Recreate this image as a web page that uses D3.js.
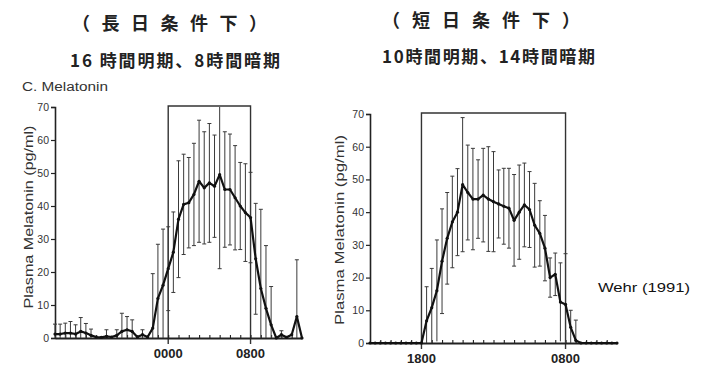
<!DOCTYPE html>
<html>
<head>
<meta charset="utf-8">
<script src="https://cdn.jsdelivr.net/npm/d3@7"></script>
<style>
  html, body { margin: 0; padding: 0; background: #fff; }
  svg { display: block; }
</style>
</head>
<body>
<svg id="chart" width="701" height="368"></svg>
<script>
// Sampling times, hours after 13:00 (30-min sampling over 24 h)
const sampleHours = [0, 0.5, 1, 1.5, 2, 2.5, 3, 3.5, 4, 4.5, 5, 5.5, 6, 6.5, 7, 7.5, 8, 8.5, 9, 9.5,
  10, 10.5, 11, 11.5, 12, 12.5, 13, 13.5, 14, 14.5, 15, 15.5, 16, 16.5, 17, 17.5, 18, 18.5, 19, 19.5,
  20, 20.5, 21, 21.5, 22, 22.5, 23, 23.5, 24];

// Long photoperiod (16L:8D): mean plasma melatonin (pg/ml) and SD
const longMean = [1.2, 1.2, 1.5, 1.5, 1.2, 2.0, 1.5, 0.8, 0.3, 0.2, 0.5, 0.3, 0.8, 2.0, 2.5, 2.0, 0.3, 1.0, 0.3, 3,
  12, 16, 21, 26, 36, 40.5, 41, 43.5, 47.5, 45.5, 47, 46, 49.5, 45, 45, 42.5, 40, 38, 36.5, 24,
  15, 9, 4, 0, 1, 0.2, 1, 6.5, 0];
const longSD = [3, 3, 3, 3.5, 2.8, 4.2, 2.9, 1.9, 0, 0, 2, 0, 1.7, 5.5, 4, 3.5, 0, 1.5, 0, 16.5,
  16.4, 17, 12.7, 12.2, 17.7, 15.2, 13.7, 15.5, 18.5, 17, 18, 15.5, 28.5, 17.5, 16.8, 15.8, 13.2, 14.8, 13.7, 16.8,
  24, 19, 11.6, 0, 1.2, 0, 0, 17.2, 0];

// Short photoperiod (10L:14D)
const shortMean = [0, 0, 0, 0, 0, 0, 0, 0, 0, 0, 0, 6.8, 10.8, 16, 25, 32, 37, 40, 48.4, 46,
  44, 44, 45.2, 44, 43.2, 42.5, 41.8, 41.2, 37.5, 40, 42.2, 40.8, 36, 33.5, 29, 20, 21, 12.5, 11.8, 4.8,
  0.8, 0, 0, 0, 0, 0, 0, 0, 0];
const shortSD = [0, 0, 0, 0, 0, 0, 0, 0, 0, 0, 0, 10.4, 12, 15.5, 16, 14, 14, 13.3, 20.5, 14.5,
  15.5, 12, 14.3, 16, 15.3, 10.4, 11.6, 12.2, 14, 14.4, 12.8, 11.6, 12.8, 10, 10, 6, 6.5, 12, 15.5, 5.2,
  6.2, 0, 0, 0, 0, 0, 0, 0, 0];

const yTicks = [0, 10, 20, 30, 40, 50, 60, 70];
const hourTicks = [1, 2, 3, 4, 5, 6, 7, 8, 9, 10, 11, 12, 13, 14, 15, 16, 17, 18, 19, 20, 21, 22, 23];

// Dark periods (hours after 13:00) with clock labels at their edges
const longDark = [11, 19];
const longDarkLabels = ["0000", "0800"];
const shortDark = [5, 19];
const shortDarkLabels = ["1800", "0800"];

const yTitle = "Plasma Melatonin (pg/ml)";
const ink = "#222";

const svg = d3.select("#chart");

function drawPanel(p) {
  const x = d3.scaleLinear().domain([0, 24]).range([p.left, p.left + 247]);
  const y = d3.scaleLinear().domain([0, 70]).range([p.bottom, p.top]);
  const g = svg.append("g");

  // dark-period box; its sides run a little below the axis
  g.append("path")
    .attr("d", `M${x(p.dark[0])},${p.bottom + 6}V${y(70) - 1}H${x(p.dark[1])}V${p.bottom + 6}`)
    .attr("fill", "none").attr("stroke", "#333").attr("stroke-width", 1.4);

  // y axis
  const ya = g.append("g").attr("transform", `translate(${p.left},0)`)
    .call(d3.axisLeft(y).tickValues(yTicks).tickSize(4).tickPadding(2).tickFormat(d3.format("d")));
  ya.select(".domain").attr("stroke", ink).attr("stroke-width", 1.6);
  ya.selectAll(".tick line").attr("stroke", ink).attr("stroke-width", 1.2);
  ya.selectAll("text").attr("font-family", "'Liberation Sans Narrow', 'Liberation Sans', Arial, sans-serif")
    .attr("font-size", 10.5).attr("fill", "#333");

  // x axis with hourly ticks pointing up
  const xa = g.append("g").attr("transform", `translate(0,${p.bottom})`)
    .call(d3.axisBottom(x).tickValues(hourTicks).tickSize(-3).tickSizeOuter(0).tickFormat(""));
  xa.select(".domain").attr("stroke", ink).attr("stroke-width", 1.8);
  xa.selectAll(".tick line").attr("stroke", ink).attr("stroke-width", 1.1);

  g.selectAll(".clock").data(p.dark).join("text")
    .attr("x", d => x(d)).attr("y", p.bottom + 20)
    .attr("text-anchor", "middle")
    .attr("font-family", "'Liberation Sans', Arial, sans-serif")
    .attr("font-size", 13).attr("font-weight", "bold").attr("fill", ink)
    .text((d, i) => p.darkLabels[i]);

  const pts = sampleHours.map((h, i) => ({ h, m: p.mean[i], sd: p.sd[i] }));

  // SD error bars
  const bars = pts.filter(d => d.sd > 0);
  const hi = d => y(Math.min(70, d.m + d.sd));
  const lo = d => y(Math.max(0, d.m - d.sd));
  g.selectAll(".eb").data(bars).join("line")
    .attr("x1", d => x(d.h)).attr("x2", d => x(d.h))
    .attr("y1", hi).attr("y2", lo)
    .attr("stroke", "#3a3a3a").attr("stroke-width", 1);
  g.selectAll(".capHi").data(bars.filter(d => d.m + d.sd < 70)).join("line")
    .attr("x1", d => x(d.h) - 2).attr("x2", d => x(d.h) + 2)
    .attr("y1", hi).attr("y2", hi)
    .attr("stroke", "#3a3a3a").attr("stroke-width", 1);
  g.selectAll(".capLo").data(bars.filter(d => d.m - d.sd > 0.5)).join("line")
    .attr("x1", d => x(d.h) - 2).attr("x2", d => x(d.h) + 2)
    .attr("y1", lo).attr("y2", lo)
    .attr("stroke", "#3a3a3a").attr("stroke-width", 1);

  // mean line and points
  g.append("path").datum(pts)
    .attr("d", d3.line().x(d => x(d.h)).y(d => y(d.m)))
    .attr("fill", "none").attr("stroke", "#111").attr("stroke-width", 2.2)
    .attr("stroke-linejoin", "round");
  g.selectAll(".pt").data(pts).join("circle")
    .attr("cx", d => x(d.h)).attr("cy", d => y(d.m)).attr("r", 1.6).attr("fill", "#111");

  // y title
  g.append("text")
    .attr("transform", `translate(${p.titleX},${p.titleY}) rotate(-90)`)
    .attr("text-anchor", "middle")
    .attr("font-family", "'Liberation Sans', Arial, sans-serif")
    .attr("font-size", 13.5).attr("fill", "#333")
    .attr("textLength", p.titleLen).attr("lengthAdjust", "spacingAndGlyphs")
    .text(yTitle);
}

drawPanel({ left: 55, bottom: 338, top: 107, dark: longDark, darkLabels: longDarkLabels,
  mean: longMean, sd: longSD, titleX: 33, titleY: 217, titleLen: 183 });
drawPanel({ left: 370, bottom: 343, top: 114, dark: shortDark, darkLabels: shortDarkLabels,
  mean: shortMean, sd: shortSD, titleX: 344, titleY: 230, titleLen: 190 });

// headings
const jp = "'Noto Sans CJK JP', 'Noto Sans CJK SC', sans-serif";
const headings = [
  { t: "（ 長 日 条 件 下 ）", x: 72, y: 30, s: 18, len: 195 },
  { t: "16 時間明期、8時間暗期", x: 70, y: 67, s: 17, len: 210 },
  { t: "（ 短 日 条 件 下 ）", x: 382, y: 27, s: 18, len: 198 },
  { t: "10時間明期、14時間暗期", x: 382, y: 63, s: 17, len: 213 }
];
svg.selectAll(".head").data(headings).join("text")
  .attr("x", d => d.x).attr("y", d => d.y)
  .attr("font-family", jp).attr("font-weight", "bold")
  .attr("font-size", d => d.s).attr("fill", ink)
  .attr("textLength", d => d.len).attr("lengthAdjust", "spacing")
  .text(d => d.t);

svg.append("text").attr("x", 22).attr("y", 91)
  .attr("font-family", "'Liberation Sans', Arial, sans-serif").attr("font-size", 12)
  .attr("fill", "#333").attr("textLength", 86).attr("lengthAdjust", "spacingAndGlyphs")
  .text("C. Melatonin");

svg.append("text").attr("x", 598).attr("y", 292)
  .attr("font-family", "'Liberation Sans', Arial, sans-serif").attr("font-size", 13)
  .attr("fill", "#111").attr("textLength", 92).attr("lengthAdjust", "spacingAndGlyphs")
  .text("Wehr (1991)");
</script>
</body>
</html>
